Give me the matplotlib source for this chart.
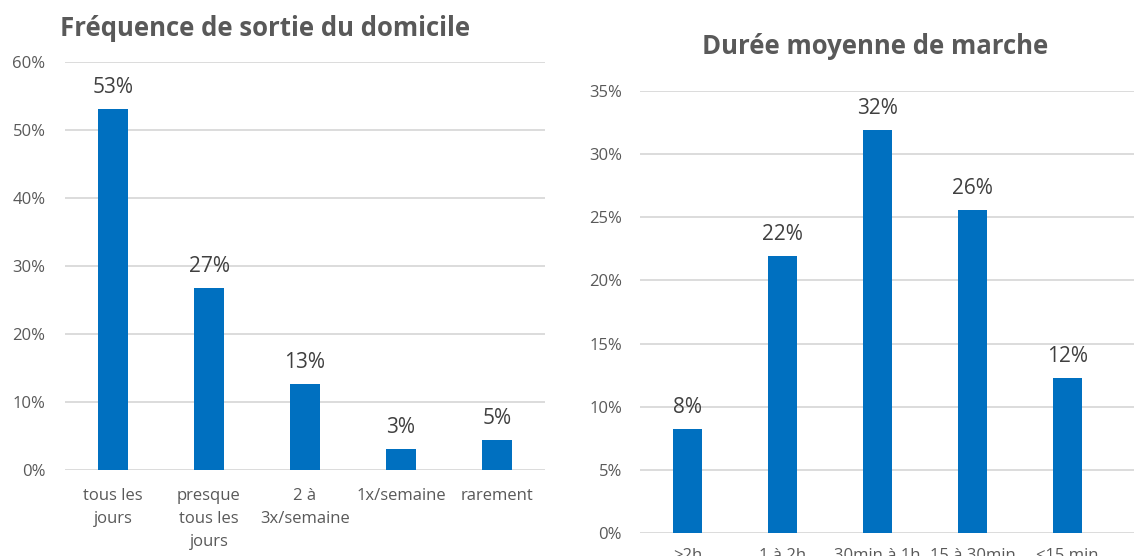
import matplotlib.pyplot as plt
from matplotlib.ticker import PercentFormatter

plt.rcParams['font.family'] = ['Open Sans', 'DejaVu Sans']

freq_labels = ['tous les\njours', 'presque\ntous les\njours', '2 à\n3x/semaine', '1x/semaine', 'rarement']
freq_values = [53.1, 26.7, 12.7, 3.1, 4.4]
freq_text = ['53%', '27%', '13%', '3%', '5%']

duree_labels = ['>2h', '1 à 2h', '30min à 1h', '15 à 30min', '<15 min']
duree_values = [8.2, 21.9, 31.9, 25.6, 12.3]
duree_text = ['8%', '22%', '32%', '26%', '12%']

blue = '#0070C0'
grey = '#595959'
grid_c = '#D9D9D9'

W, H = 1134, 556
fig = plt.figure(figsize=(W / 100, H / 100), dpi=100)


def px_axes(x0, y0, x1, y1):
    return fig.add_axes([x0 / W, 1 - y1 / H, (x1 - x0) / W, (y1 - y0) / H])


def style(ax, ymax, step, ypad, xpad):
    ax.set_ylim(0, ymax)
    ax.set_yticks(range(0, ymax + 1, step))
    ax.yaxis.set_major_formatter(PercentFormatter(decimals=0))
    ax.grid(axis='y', color=grid_c, lw=1.3)
    ax.set_axisbelow(True)
    for s in ax.spines.values():
        s.set_visible(False)
    ax.tick_params(length=0, colors=grey, labelsize=12)
    ax.tick_params(axis='y', pad=ypad)
    ax.tick_params(axis='x', pad=xpad)


# left chart
ax1 = px_axes(65, 62, 545, 470)
x = range(len(freq_values))
ax1.bar(x, freq_values, width=0.31, color=blue)
ax1.set_xlim(-0.5, 4.5)
ax1.set_xticks(list(x))
ax1.set_xticklabels(freq_labels, linespacing=1.6)
style(ax1, 60, 10, 14, 13)
for i, (v, t) in enumerate(zip(freq_values, freq_text)):
    ax1.annotate(t, (i, v), xytext=(0, 8), textcoords='offset points',
                 ha='center', va='bottom', fontsize=15, color='#404040')
fig.text(60 / W, 1 - 28 / H, 'Fréquence de sortie du domicile', fontsize=18.5,
         fontweight='bold', color=grey, ha='left', va='center')

# right chart
ax2 = px_axes(640, 91, 1134, 533)
x = range(len(duree_values))
ax2.bar(x, duree_values, width=0.31, color=blue)
ax2.set_xlim(-0.5, 4.7)
ax2.set_xticks(list(x))
ax2.set_xticklabels(duree_labels)
style(ax2, 35, 5, 13, 11)
for i, (v, t) in enumerate(zip(duree_values, duree_text)):
    ax2.annotate(t, (i, v), xytext=(0, 8), textcoords='offset points',
                 ha='center', va='bottom', fontsize=15, color='#404040')
fig.text(875 / W, 1 - 47 / H, 'Durée moyenne de marche', fontsize=18.5,
         fontweight='bold', color=grey, ha='center', va='center')

fig.savefig('out.png', dpi=100)
